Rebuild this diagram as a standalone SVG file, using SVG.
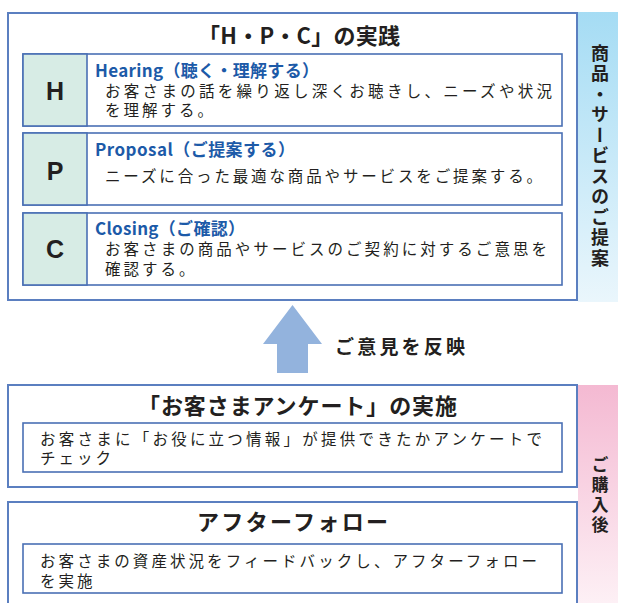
<svg xmlns="http://www.w3.org/2000/svg" width="618" height="603" viewBox="0 0 618 603">
<defs>
<linearGradient id="gBlue" x1="0" y1="0" x2="0" y2="1">
<stop offset="0" stop-color="#a5dcf4"/>
<stop offset="1" stop-color="#eaf6fc"/>
</linearGradient>
<linearGradient id="gPink" x1="0" y1="0" x2="0" y2="1">
<stop offset="0" stop-color="#f4b9d2"/>
<stop offset="1" stop-color="#fdf0f5"/>
</linearGradient>
<style>
text{font-family:"Noto Sans CJK JP","Noto Sans",sans-serif;fill:#231f20}
.outer{fill:#fff;stroke:#5b7fc0;stroke-width:2}
.inner{fill:#fff;stroke:#4a70b5;stroke-width:1.6}
.cell{fill:#d7ece5;stroke:#4a70b5;stroke-width:1.6}
.title{font-size:22px;font-weight:bold}
.letter{font-family:"Liberation Sans",Arial,sans-serif;font-size:25px;font-weight:bold;text-anchor:middle}
.head{font-size:17px;font-weight:bold;fill:#1c5aa8}
.body{font-size:15.5px;letter-spacing:3px}
.side{font-size:18px;font-weight:bold;writing-mode:vertical-rl;letter-spacing:2.5px}
.lbl{font-size:19px;font-weight:bold}
</style>
</defs>
<rect x="578" y="12" width="40" height="290" fill="url(#gBlue)"/>
<rect x="578" y="385" width="40" height="218" fill="url(#gPink)"/>
<g id="hpc">
<rect class="outer" x="8" y="13" width="569" height="287"/>
<text class="title" x="198" y="44" textLength="202" lengthAdjust="spacing">「H・P・C」の実践</text>
</g>
<g id="H">
<rect class="inner" x="23" y="54" width="539" height="72"/>
<rect class="cell" x="23" y="54" width="64" height="72"/>
<text class="letter" x="55" y="100">H</text>
<text class="head" x="95" y="77" textLength="224" lengthAdjust="spacing">Hearing（聴く・理解する）</text>
<text class="body" x="105" y="97" textLength="450" lengthAdjust="spacing">お客さまの話を繰り返し深くお聴きし、ニーズや状況</text>
<text class="body" x="105" y="116">を理解する。</text>
</g>
<g id="P">
<rect class="inner" x="23" y="133" width="539" height="72"/>
<rect class="cell" x="23" y="133" width="64" height="72"/>
<text class="letter" x="55" y="180">P</text>
<text class="head" x="95" y="156" textLength="200" lengthAdjust="spacing">Proposal（ご提案する）</text>
<text class="body" x="105" y="182" textLength="440" lengthAdjust="spacing">ニーズに合った最適な商品やサービスをご提案する。</text>
</g>
<g id="C">
<rect class="inner" x="23" y="213" width="539" height="72"/>
<rect class="cell" x="23" y="213" width="64" height="72"/>
<text class="letter" x="55" y="258">C</text>
<text class="head" x="95" y="235" textLength="150" lengthAdjust="spacing">Closing（ご確認）</text>
<text class="body" x="105" y="255" textLength="445" lengthAdjust="spacing">お客さまの商品やサービスのご契約に対するご意思を</text>
<text class="body" x="105" y="275">確認する。</text>
</g>
<g id="side-proposal">
<text class="side" x="600" y="44">商品・サービスのご提案</text>
</g>
<g id="connectors">
<polygon points="292.5,305 322,344 308,344 308,373 277,373 277,344 263,344" fill="#93b3dd"/>
<text class="lbl" x="335" y="354" textLength="130" lengthAdjust="spacing">ご意見を反映</text>
</g>
<g id="survey">
<rect class="outer" x="8" y="385" width="569" height="102"/>
<text class="title" x="138" y="414" textLength="319" lengthAdjust="spacing">「お客さまアンケート」の実施</text>
<rect class="inner" x="23" y="423" width="539" height="49"/>
<text class="body" x="40" y="445" textLength="505" lengthAdjust="spacing">お客さまに「お役に立つ情報」が提供できたかアンケートで</text>
<text class="body" x="40" y="464">チェック</text>
</g>
<g id="followup">
<rect class="outer" x="8" y="502" width="569" height="110"/>
<text class="title" x="197" y="530" textLength="191" lengthAdjust="spacing">アフターフォロー</text>
<rect class="inner" x="23" y="544" width="539" height="49"/>
<text class="body" x="40" y="567" textLength="500" lengthAdjust="spacing">お客さまの資産状況をフィードバックし、アフターフォロー</text>
<text class="body" x="40" y="587">を実施</text>
</g>
<g id="side-after">
<text class="side" x="600" y="456" style="font-size:17px;letter-spacing:3px">ご購入後</text>
</g>
</svg>
